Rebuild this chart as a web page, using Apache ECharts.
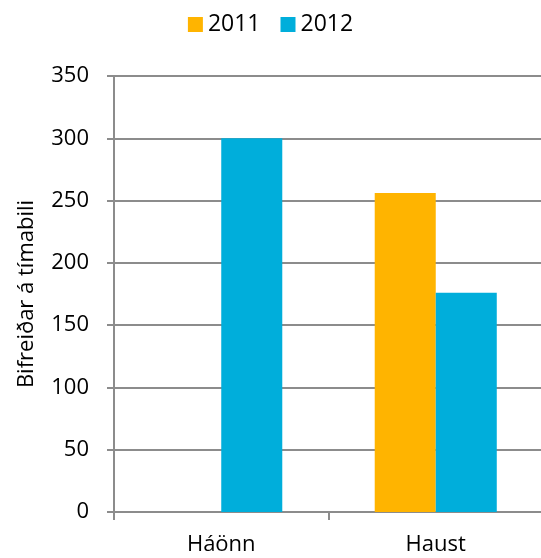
<!DOCTYPE html>
<html>
<head>
<meta charset="utf-8">
<script src="https://cdn.jsdelivr.net/npm/echarts@6/dist/echarts.min.js"></script>
<style>
html, body { margin: 0; padding: 0; background: #fff; }
#chart { width: 541px; height: 558px; }
</style>
</head>
<body>
<div id="chart"></div>
<script>
// data
var categories = ['Háönn', 'Haust'];
var seriesNames = ['2011', '2012'];
var values2011 = [null, 256];
var values2012 = [300, 176];
var yTicks = { min: 0, max: 350, interval: 50 };

var font = '"Open Sans", "Liberation Sans", sans-serif';
var chart = echarts.init(document.getElementById('chart'));
chart.setOption({
	animation: false,
	color: ['#FFB400', '#00AEDB'],
	textStyle: { fontFamily: font },
	legend: {
		top: 8,
		left: 'center',
		itemWidth: 15,
		itemHeight: 15,
		itemGap: 20,
		icon: 'rect',
		textStyle: { fontSize: 23, color: '#000', fontFamily: font },
		data: seriesNames
	},
	// plot runs off the right edge like in the original
	grid: { left: 114, width: 429, top: 76, bottom: 46, outerBoundsMode: 'none' },
	xAxis: {
		type: 'category',
		data: categories,
		axisLine: { lineStyle: { color: '#8c8c8c', width: 2 } },
		axisTick: { show: true, length: 8, lineStyle: { color: '#8c8c8c', width: 2 } },
		axisLabel: { fontSize: 22, color: '#000', margin: 22, fontFamily: font }
	},
	yAxis: {
		type: 'value',
		min: yTicks.min,
		max: yTicks.max,
		interval: yTicks.interval,
		name: 'Bifreiðar á tímabili',
		nameLocation: 'middle',
		nameGap: 76,
		nameTextStyle: { fontSize: 22, color: '#000', fontFamily: font },
		axisLine: { show: true, lineStyle: { color: '#8c8c8c', width: 2 } },
		axisTick: { show: true, length: 7, lineStyle: { color: '#8c8c8c', width: 2 } },
		axisLabel: { fontSize: 22, color: '#000', margin: 25, fontFamily: font },
		splitLine: { lineStyle: { color: '#8c8c8c', width: 2 } }
	},
	series: [
		{
			name: seriesNames[0],
			type: 'bar',
			data: values2011,
			barGap: '0%',
			barCategoryGap: '43.1%'
		},
		{
			name: seriesNames[1],
			type: 'bar',
			data: values2012,
			barGap: '0%',
			barCategoryGap: '43.1%'
		}
	]
});
</script>
</body>
</html>
